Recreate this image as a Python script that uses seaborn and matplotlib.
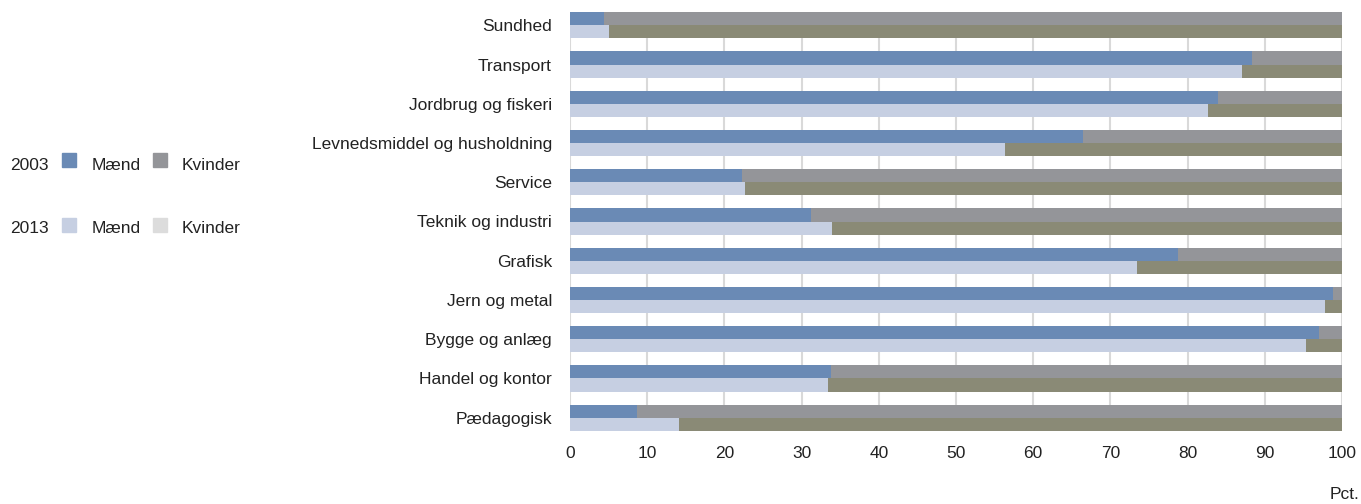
import pandas as pd
import matplotlib.pyplot as plt
import matplotlib.patches as mpatches
import seaborn as sns

# Andel mænd pr. uddannelsesområde (pct.)
omraader = ['Sundhed', 'Transport', 'Jordbrug og fiskeri', 'Levnedsmiddel og husholdning',
            'Service', 'Teknik og industri', 'Grafisk', 'Jern og metal',
            'Bygge og anlæg', 'Handel og kontor', 'Pædagogisk']
maend_2003 = [4.4, 88.3, 83.9, 66.5, 22.3, 31.2, 78.7, 98.8, 97.0, 33.8, 8.7]
maend_2013 = [5.1, 87.1, 82.7, 56.3, 22.7, 33.9, 73.4, 97.8, 95.4, 33.4, 14.1]
aar = ['2003', '2013']

df = pd.DataFrame({
    'Område': omraader * 2,
    'År': ['2003'] * len(omraader) + ['2013'] * len(omraader),
    'Mænd': maend_2003 + maend_2013,
})
df['I alt'] = 100

farve_maend = {'2003': '#6a8ab5', '2013': '#c6cfe2'}
farve_kvinder = {'2003': '#949599', '2013': '#8a8a76'}

plt.rcParams['font.family'] = ['Liberation Sans', 'DejaVu Sans']
fs = 12.5
fig = plt.figure(figsize=(13.61, 5.04), dpi=100)
ax = fig.add_axes([570 / 1361, 1 - 431 / 504, (1342 - 570) / 1361, (431 - 12) / 504])

# Kvinder = resten op til 100, mænd tegnes ovenpå
sns.barplot(data=df, y='Område', x='I alt', hue='År', hue_order=aar, palette=farve_kvinder,
            orient='h', width=0.667, saturation=1, ax=ax, legend=False, errorbar=None, zorder=2)
sns.barplot(data=df, y='Område', x='Mænd', hue='År', hue_order=aar, palette=farve_maend,
            orient='h', width=0.667, saturation=1, ax=ax, legend=False, errorbar=None, zorder=3)

ax.set_xlim(0, 100)
ax.set_ylim(10.34, -0.34)
ax.set_xticks(range(0, 101, 10))
ax.set_xlabel('')
ax.set_ylabel('')
ax.grid(axis='x', color='#d9d9d9', linewidth=1.5, zorder=0)
ax.set_axisbelow(True)
for s in ax.spines.values():
    s.set_visible(False)
ax.tick_params(axis='both', length=0, labelsize=fs, colors='#222222')
ax.tick_params(axis='x', pad=11)
ax.tick_params(axis='y', pad=13)

fig.text(0.999, 0.003, 'Pct.', ha='right', va='bottom', fontsize=fs, color='#222222')

# Forklaring til venstre
for ty, sq, a, km in [(166, 167, '2003', '#949599'), (229, 232, '2013', '#dcdcdc')]:
    y = 1 - ty / 504
    yb = 1 - sq / 504
    fig.text(10 / 1361, y, a, ha='left', va='center', fontsize=fs, color='#222222')
    fig.patches.append(mpatches.Rectangle((62 / 1361, yb), 14 / 1361, 14 / 504,
                                          transform=fig.transFigure, color=farve_maend[a]))
    fig.text(92 / 1361, y, 'Mænd', ha='left', va='center', fontsize=fs, color='#222222')
    fig.patches.append(mpatches.Rectangle((153 / 1361, yb), 14 / 1361, 14 / 504,
                                          transform=fig.transFigure, color=km))
    fig.text(182 / 1361, y, 'Kvinder', ha='left', va='center', fontsize=fs, color='#222222')

fig.savefig('out.png', dpi=100)
